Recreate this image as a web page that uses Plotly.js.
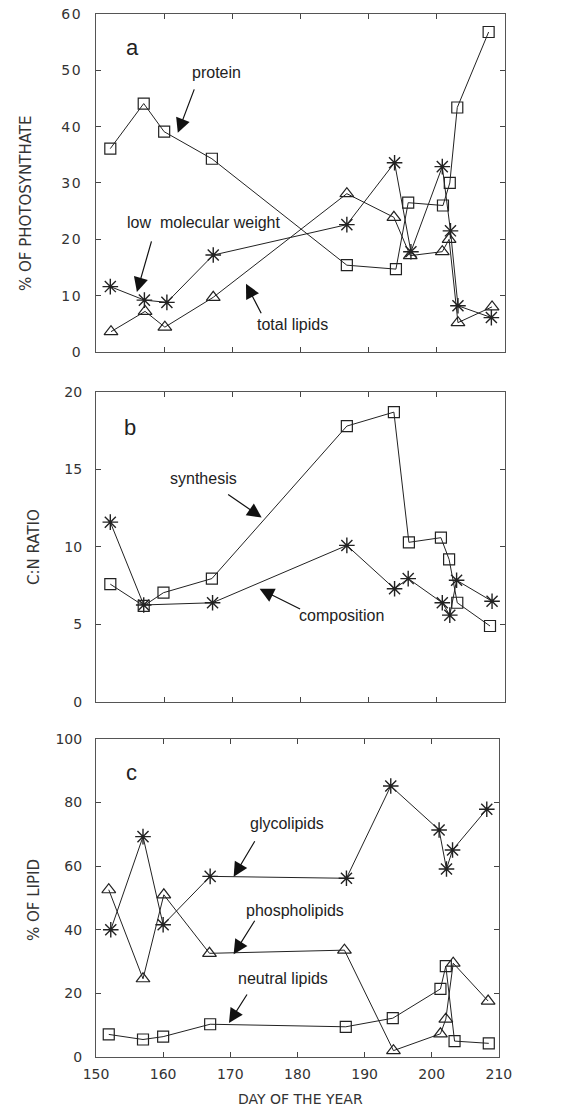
<!DOCTYPE html>
<html>
<head>
<meta charset="utf-8">
<script src="https://cdn.plot.ly/plotly-3.0.1.min.js"></script>
<style>
html, body { margin: 0; padding: 0; background: #fff; }
#chart { width: 572px; height: 1110px; }
.xtick text, .ytick text { letter-spacing: 1.5px; }
</style>
</head>
<body>
<div id="chart"></div>
<script>
// ---- Panel a: % of photosynthate ----
const proteinDays   = [152.1, 157.0, 160.0, 167.0, 186.8, 194.0, 195.8, 200.9, 201.9, 203.0, 207.6];
const proteinPct    = [36.1, 44.1, 39.1, 34.3, 15.4, 14.7, 26.5, 26.0, 30.0, 43.4, 56.8];
const lmwDays       = [152.1, 157.1, 160.4, 167.2, 186.8, 193.8, 196.2, 200.8, 202.0, 203.1, 208.0];
const lmwPct        = [11.6, 9.2, 8.8, 17.2, 22.6, 33.6, 17.8, 32.9, 21.5, 8.2, 6.1];
const lipidDays     = [152.2, 157.2, 160.1, 167.2, 186.8, 193.7, 196.1, 200.8, 201.8, 203.1, 208.1];
const lipidPct      = [3.6, 7.2, 4.4, 9.7, 28.1, 23.9, 17.1, 17.8, 20.0, 5.2, 8.0];

// ---- Panel b: C:N ratio ----
const synthDays     = [152.1, 157.0, 159.9, 167.0, 186.8, 193.7, 195.9, 200.6, 201.8, 203.0, 207.8];
const synthRatio    = [7.6, 6.2, 7.05, 7.96, 17.8, 18.7, 10.3, 10.6, 9.2, 6.4, 4.9];
const compDays      = [152.1, 157.0, 167.1, 186.8, 193.8, 195.8, 200.8, 201.9, 202.9, 208.1];
const compRatio     = [11.6, 6.26, 6.4, 10.1, 7.3, 7.96, 6.4, 5.6, 7.85, 6.5];

// ---- Panel c: % of lipid ----
const glycoDays     = [152.2, 157.0, 160.0, 167.0, 187.3, 193.9, 201.1, 202.2, 203.1, 208.2];
const glycoPct      = [40.0, 69.3, 41.6, 56.8, 56.2, 85.2, 71.4, 59.1, 65.1, 77.9];
const phosphoDays   = [151.9, 157.0, 160.1, 166.9, 187.0, 194.3, 201.3, 202.1, 203.2, 208.4];
const phosphoPct    = [52.6, 24.6, 51.0, 32.6, 33.6, 2.0, 7.3, 11.9, 29.5, 17.6];
const neutralDays   = [151.9, 157.0, 160.0, 167.0, 187.2, 194.2, 201.3, 202.1, 203.4, 208.5];
const neutralPct    = [7.1, 5.5, 6.4, 10.3, 9.5, 12.2, 21.4, 28.6, 5.0, 4.3];

const xTicks = [150, 160, 170, 180, 190, 200, 210];

const LINE = '#222';
function series(x, y, sym, size, xa, ya, mw) {
  return {
    x: x, y: y, xaxis: xa, yaxis: ya, type: 'scatter', mode: 'lines+markers',
    line: {color: LINE, width: 1},
    marker: {symbol: sym, size: size, color: LINE, line: {color: LINE, width: mw || 1.2}},
    showlegend: false, hoverinfo: 'x+y'
  };
}

const data = [
  series(proteinDays, proteinPct, 'square-open', 11, 'x', 'y'),
  series(lmwDays, lmwPct, 'asterisk-open', 13, 'x', 'y', 1.4),
  series(lipidDays, lipidPct, 'triangle-up-open', 12, 'x', 'y'),
  series(synthDays, synthRatio, 'square-open', 11, 'x2', 'y2'),
  series(compDays, compRatio, 'asterisk-open', 13, 'x2', 'y2', 1.4),
  series(glycoDays, glycoPct, 'asterisk-open', 13, 'x3', 'y3', 1.4),
  series(phosphoDays, phosphoPct, 'triangle-up-open', 12, 'x3', 'y3'),
  series(neutralDays, neutralPct, 'square-open', 11, 'x3', 'y3')
];

const tickFont = {family: 'DejaVu Sans', size: 14, color: '#333'};
function xAxis(domain, anchor, labels) {
  return {
    domain: domain, anchor: anchor, range: [150, 210], tickvals: xTicks,
    ticks: 'inside', ticklen: 5, tickcolor: '#444', mirror: 'ticks',
    showline: true, linecolor: '#555', linewidth: 1,
    showgrid: false, zeroline: false, showticklabels: labels,
    tickfont: tickFont, ticklabelstandoff: 4, fixedrange: true
  };
}
function yAxis(domain, anchor, range, dtick) {
  return {
    domain: domain, anchor: anchor, range: range, dtick: dtick, tick0: 0,
    ticks: 'inside', ticklen: 5, tickcolor: '#444', mirror: 'ticks',
    showline: true, linecolor: '#555', linewidth: 1,
    showgrid: false, zeroline: false, tickfont: tickFont,
    ticklabelstandoff: 10, fixedrange: true
  };
}

const labelFont = {family: 'Liberation Sans, Arial, sans-serif', size: 16, color: '#222'};
const titleFont = {family: 'DejaVu Sans', size: 15, color: '#333'};

function txt(text, xa, ya, x, y, size) {
  return {text: text, xref: xa, yref: ya, x: x, y: y, showarrow: false,
          xanchor: 'center', yanchor: 'middle',
          font: size ? {family: 'Liberation Sans, Arial, sans-serif', size: size, color: '#222'} : labelFont};
}
function arrow(xa, ya, x, y, ax, ay) {
  return {text: '', xref: xa, yref: ya, x: x, y: y, ax: ax, ay: ay, showarrow: true,
          arrowhead: 2, arrowsize: 2.4, arrowwidth: 1.2, arrowcolor: '#111', standoff: 0, startstandoff: 0};
}
function axTitle(text, px, py, angle, size) {
  return {text: text, xref: 'paper', yref: 'paper', x: (px - 96) / 409, y: (1057 - py) / 1043,
          xanchor: 'center', yanchor: 'middle', textangle: angle, showarrow: false,
          font: {family: 'DejaVu Sans', size: size, color: '#333'}};
}

const annotations = [
  // panel a
  txt('a', 'x', 'y', 155.3, 54.1, 22),
  txt('protein', 'x', 'y', 167.7, 49.7),
  arrow('x', 'y', 162.0, 38.9, 17, -45),
  txt('low  molecular weight', 'x', 'y', 165.9, 22.9),
  arrow('x', 'y', 156.0, 10.65, 15, -52),
  txt('total lipids', 'x', 'y', 178.8, 4.8),
  arrow('x', 'y', 172.0, 12.1, 16, 31),
  // panel b
  txt('b', 'x2', 'y2', 155.0, 17.7, 22),
  txt('synthesis', 'x2', 'y2', 165.7, 14.45),
  arrow('x2', 'y2', 174.3, 11.9, -35, -24),
  txt('composition', 'x2', 'y2', 186.0, 5.55),
  arrow('x2', 'y2', 174.0, 7.3, 42, 21),
  // panel c
  txt('c', 'x3', 'y3', 155.3, 89.6, 22),
  txt('glycolipids', 'x3', 'y3', 178.5, 73.3),
  arrow('x3', 'y3', 170.5, 56.7, 22, -37),
  txt('phospholipids', 'x3', 'y3', 179.7, 46.2),
  arrow('x3', 'y3', 170.5, 32.3, 22, -35),
  txt('neutral lipids', 'x3', 'y3', 177.8, 24.8),
  arrow('x3', 'y3', 169.8, 10.7, 19, -30),
  // axis titles
  axTitle('% OF PHOTOSYNTHATE', 26, 204, -90, 15),
  axTitle('C:N RATIO', 34, 547, -90, 15),
  axTitle('% OF LIPID', 34, 900, -90, 15),
  axTitle('DAY OF THE YEAR', 300, 1099, 0, 14)
];

const layout = {
  width: 572, height: 1110,
  margin: {l: 96, r: 67, t: 14, b: 53},
  paper_bgcolor: '#fff', plot_bgcolor: '#fff',
  showlegend: false,
  xaxis:  xAxis([0, 1], 'y', false),
  yaxis:  yAxis([0.676, 1], 'x', [0, 60], 10),
  xaxis2: xAxis([0, 1], 'y2', false),
  yaxis2: yAxis([0.3404, 0.6376], 'x2', [0, 20], 5),
  xaxis3: xAxis([0, 0.985], 'y3', true),
  yaxis3: yAxis([0, 0.3049], 'x3', [0, 100], 20),
  annotations: annotations
};

Plotly.newPlot('chart', data, layout, {displayModeBar: false, staticPlot: true});
</script>
</body>
</html>
